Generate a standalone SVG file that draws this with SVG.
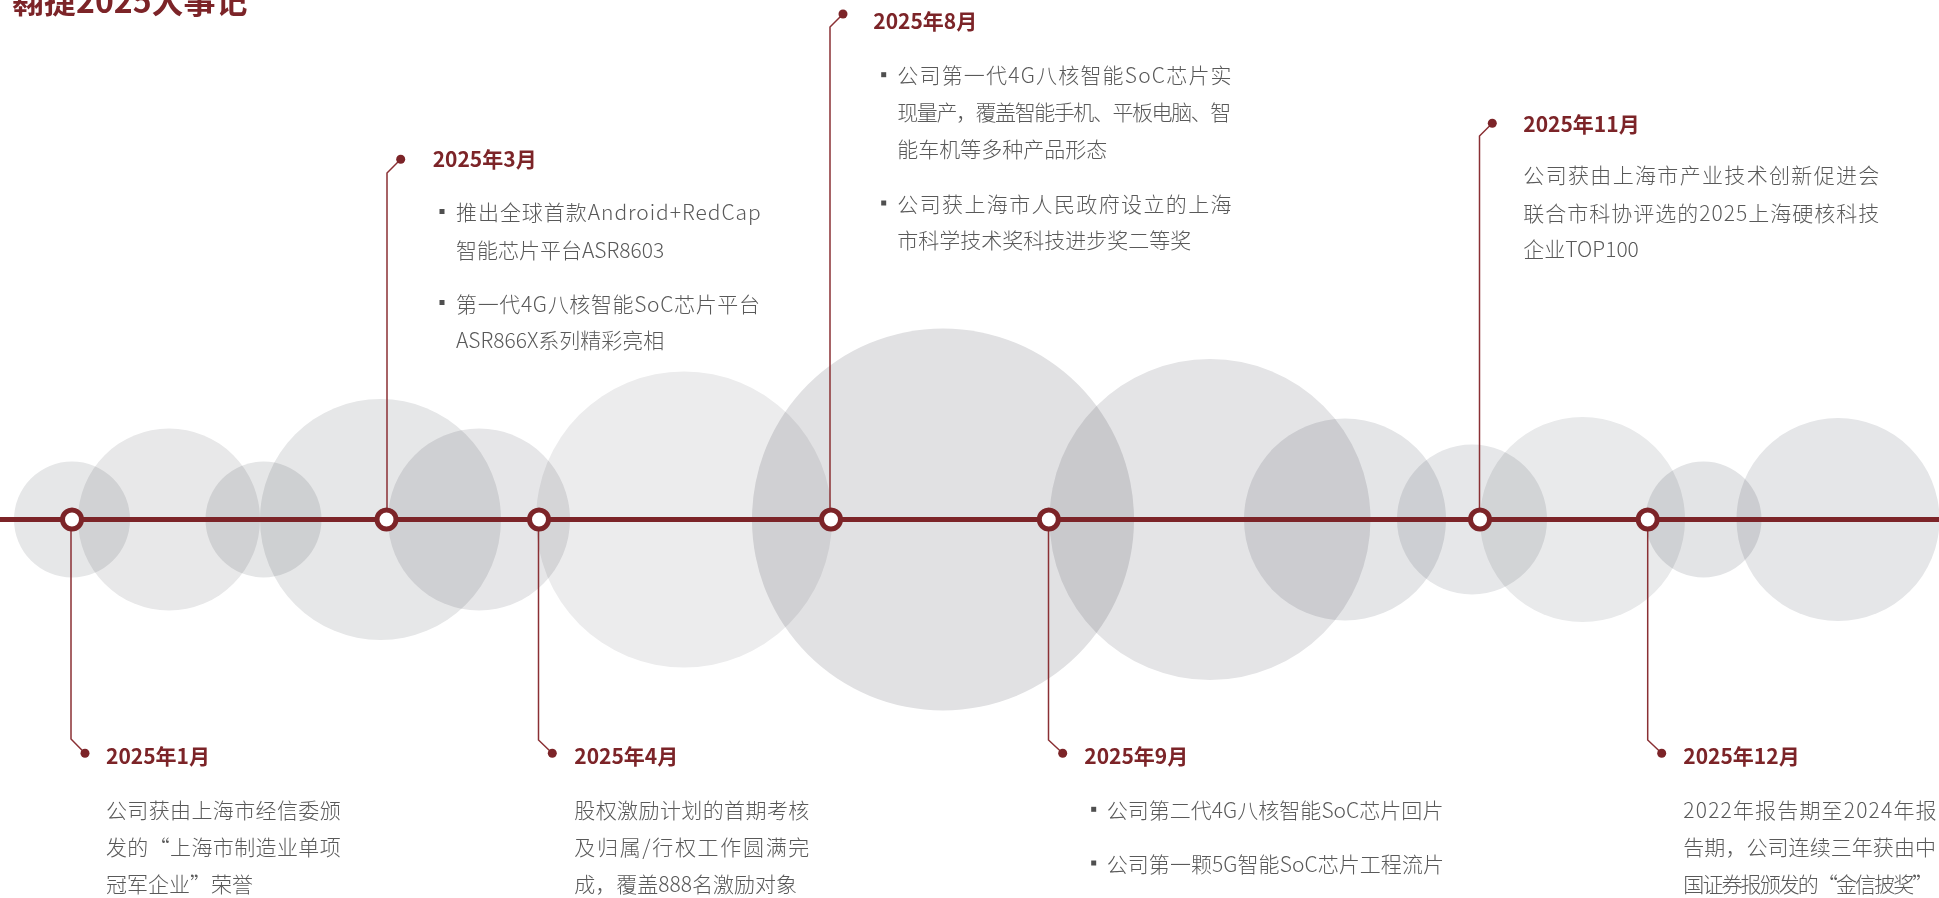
<svg xmlns="http://www.w3.org/2000/svg" width="1939" height="898" viewBox="0 0 1939 898">
<style>
.bg{mix-blend-mode:multiply}
.axis{stroke:#7c2428;stroke-width:5;fill:none}
.lead{stroke:#8a3034;stroke-width:1.5;fill:none}
.mk{fill:#fff;stroke:#7c2428;stroke-width:5}
.dot{fill:#7c2428}
.ttl{font-family:"Noto Sans CJK SC","Noto Sans",sans-serif;font-weight:700;font-size:21px;fill:#7c2428}
.txt{font-family:"Noto Sans CJK SC","Noto Sans",sans-serif;font-weight:300;font-size:21px;fill:#595959}
.blt{fill:#4f4f4f}
.head{font-family:"Noto Sans CJK SC","Noto Sans",sans-serif;font-weight:700;font-size:32px;fill:#7c2428}
</style>
<rect width="1939" height="898" fill="#fff"/>
<g id="background">
<circle class="bg" cx="72" cy="519.5" r="58" fill="#e6e7e8"/>
<circle class="bg" cx="169" cy="519.5" r="91" fill="#e8e8e9"/>
<circle class="bg" cx="263.5" cy="519.5" r="58" fill="#e5e6e7"/>
<circle class="bg" cx="380.5" cy="519.5" r="120.5" fill="#e6e7e8"/>
<circle class="bg" cx="479" cy="519.5" r="91" fill="#e6e6e8"/>
<circle class="bg" cx="684" cy="519.5" r="148" fill="#ececed"/>
<circle class="bg" cx="943" cy="519.5" r="191" fill="#e1e1e3"/>
<circle class="bg" cx="1210" cy="519.5" r="160.5" fill="#e4e4e6"/>
<circle class="bg" cx="1345" cy="519.5" r="101" fill="#e4e5e7"/>
<circle class="bg" cx="1472" cy="519.5" r="75" fill="#e6e7e9"/>
<circle class="bg" cx="1582.5" cy="519.5" r="102.5" fill="#e9eaeb"/>
<circle class="bg" cx="1703.5" cy="519.5" r="58" fill="#e3e4e6"/>
<circle class="bg" cx="1838" cy="519.5" r="101.5" fill="#e5e6e8"/>
</g>
<text id="heading" class="head" x="12" y="13">翱捷2025大事记</text>
<g id="connectors">
<line class="axis" x1="0" y1="519.5" x2="1939" y2="519.5"/>
<polyline class="lead" points="71,519 71,739 85,753.3"/>
<polyline class="lead" points="387,519 387,173 400.7,159.3"/>
<polyline class="lead" points="538.5,519 538.5,740 552.3,753.3"/>
<polyline class="lead" points="830,519 830,27 843,14"/>
<polyline class="lead" points="1048.5,519 1048.5,740 1062.7,753.3"/>
<polyline class="lead" points="1479.5,519 1479.5,136 1492.3,123.3"/>
<polyline class="lead" points="1647.7,519 1647.7,740 1661.7,753.3"/>
</g>
<g id="event-2025-01">
<circle class="mk" cx="72" cy="519.5" r="9.5"/>
<circle class="dot" cx="85" cy="753.3" r="4.5"/>
<text class="ttl" x="106" y="764.3">2025年1月</text>
<text class="txt" x="106" y="818.3" textLength="234.7" lengthAdjust="spacing">公司获由上海市经信委颁</text>
<text class="txt" x="106" y="855" textLength="234.7" lengthAdjust="spacing">发的“上海市制造业单项</text>
<text class="txt" x="106" y="891.7">冠军企业”荣誉</text>
</g>
<g id="event-2025-03">
<circle class="mk" cx="386.5" cy="519.5" r="9.5"/>
<circle class="dot" cx="400.7" cy="159.3" r="4.5"/>
<text class="ttl" x="432.7" y="166.7">2025年3月</text>
<rect class="blt" x="439.5" y="209" width="5" height="5"/>
<text class="txt" x="456" y="220" textLength="304.7" lengthAdjust="spacing">推出全球首款Android+RedCap</text>
<text class="txt" x="456" y="257.7">智能芯片平台ASR8603</text>
<rect class="blt" x="439.5" y="300" width="5" height="5"/>
<text class="txt" x="456" y="311.7" textLength="304" lengthAdjust="spacing">第一代4G八核智能SoC芯片平台</text>
<text class="txt" x="456" y="348">ASR866X系列精彩亮相</text>
</g>
<g id="event-2025-04">
<circle class="mk" cx="539" cy="519.5" r="9.5"/>
<circle class="dot" cx="552.3" cy="753.3" r="4.5"/>
<text class="ttl" x="574.3" y="764">2025年4月</text>
<text class="txt" x="574.3" y="818.3" textLength="235" lengthAdjust="spacing">股权激励计划的首期考核</text>
<text class="txt" x="574.3" y="855" textLength="235" lengthAdjust="spacing">及归属/行权工作圆满完</text>
<text class="txt" x="574.3" y="891.7">成，覆盖888名激励对象</text>
</g>
<g id="event-2025-08">
<circle class="mk" cx="831" cy="519.5" r="9.5"/>
<circle class="dot" cx="843" cy="14" r="4.5"/>
<text class="ttl" x="873.3" y="29.3">2025年8月</text>
<rect class="blt" x="881.2" y="72.2" width="5" height="5"/>
<text class="txt" x="897.3" y="83.3" textLength="334.3" lengthAdjust="spacing">公司第一代4G八核智能SoC芯片实</text>
<text class="txt" x="897.3" y="120" textLength="334" lengthAdjust="spacing">现量产，覆盖智能手机、平板电脑、智</text>
<text class="txt" x="897.3" y="156.7">能车机等多种产品形态</text>
<rect class="blt" x="881.2" y="200.5" width="5" height="5"/>
<text class="txt" x="897.3" y="211.7" textLength="334.3" lengthAdjust="spacing">公司获上海市人民政府设立的上海</text>
<text class="txt" x="897.3" y="248.3">市科学技术奖科技进步奖二等奖</text>
</g>
<g id="event-2025-09">
<circle class="mk" cx="1048.8" cy="519.5" r="9.5"/>
<circle class="dot" cx="1062.7" cy="753.3" r="4.5"/>
<text class="ttl" x="1084.3" y="764">2025年9月</text>
<rect class="blt" x="1091.2" y="806.8" width="5" height="5"/>
<text class="txt" x="1106.7" y="818.3" textLength="336.7" lengthAdjust="spacing">公司第二代4G八核智能SoC芯片回片</text>
<rect class="blt" x="1091.2" y="860.5" width="5" height="5"/>
<text class="txt" x="1106.7" y="871.7" textLength="337.3" lengthAdjust="spacing">公司第一颗5G智能SoC芯片工程流片</text>
</g>
<g id="event-2025-11">
<circle class="mk" cx="1480" cy="519.5" r="9.5"/>
<circle class="dot" cx="1492.3" cy="123.3" r="4.5"/>
<text class="ttl" x="1523.3" y="131.7">2025年11月</text>
<text class="txt" x="1523.3" y="183.3" textLength="356" lengthAdjust="spacing">公司获由上海市产业技术创新促进会</text>
<text class="txt" x="1523.3" y="220.7" textLength="356" lengthAdjust="spacing">联合市科协评选的2025上海硬核科技</text>
<text class="txt" x="1523.3" y="257.3">企业TOP100</text>
</g>
<g id="event-2025-12">
<circle class="mk" cx="1647.7" cy="519.5" r="9.5"/>
<circle class="dot" cx="1661.7" cy="753.3" r="4.5"/>
<text class="ttl" x="1683.3" y="764">2025年12月</text>
<text class="txt" x="1683.3" y="818.3" textLength="253.3" lengthAdjust="spacing">2022年报告期至2024年报</text>
<text class="txt" x="1683.3" y="855" textLength="252.7" lengthAdjust="spacing">告期，公司连续三年获由中</text>
<text class="txt" x="1683.3" y="891.7" textLength="250" lengthAdjust="spacing">国证券报颁发的“金信披奖”</text>
</g>
</svg>
